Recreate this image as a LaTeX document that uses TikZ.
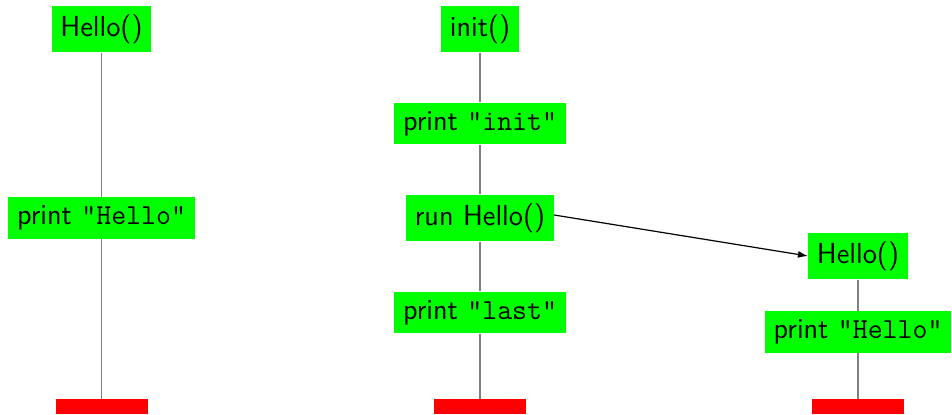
\documentclass[tikz,border=0pt]{standalone}
\usetikzlibrary{arrows.meta}
\begin{document}
\begin{tikzpicture}[x=0.5pt,y=-0.5pt,
  font=\fontsize{14.5}{17}\selectfont\sffamily,
  box/.style={fill=green, inner sep=4.3pt, text=black},
  bar/.style={fill=red, minimum width=46pt, minimum height=7.5pt, inner sep=0pt},
  life/.style={draw=gray, line width=0.7pt},
  call/.style={draw=black, line width=0.6pt, -{Latex[length=5pt,width=3.5pt]}}]
\useasboundingbox (0,0) rectangle (952,414);
% left column
\node[box] (h1) at (101.5,29) {Hello()};
\node[box] (p1) at (101.5,218) {print \texttt{"Hello"}};
\node[bar] (b1) at (101.5,406.5) {};
% middle column
\node[box] (i2) at (480,29) {init()};
\node[box] (p2) at (480,123.5) {print \texttt{"init"}};
\node[box] (r2) at (480,218) {run Hello()};
\node[box] (l2) at (480,312.5) {print \texttt{"last"}};
\node[bar] (b2) at (480,406.5) {};
% right column
\node[box] (h3) at (858,256) {Hello()};
\node[box] (p3) at (858,332) {print \texttt{"Hello"}};
\node[bar] (b3) at (858,406.5) {};
% lifelines
\draw[life] (h1) -- (p1) -- (b1);
\draw[life] (i2) -- (p2) -- (r2) -- (l2) -- (b2);
\draw[life] (h3) -- (p3) -- (b3);
% call
\draw[call] (r2.east) ++(0,-3) -- (h3.west);
\end{tikzpicture}
\end{document}
